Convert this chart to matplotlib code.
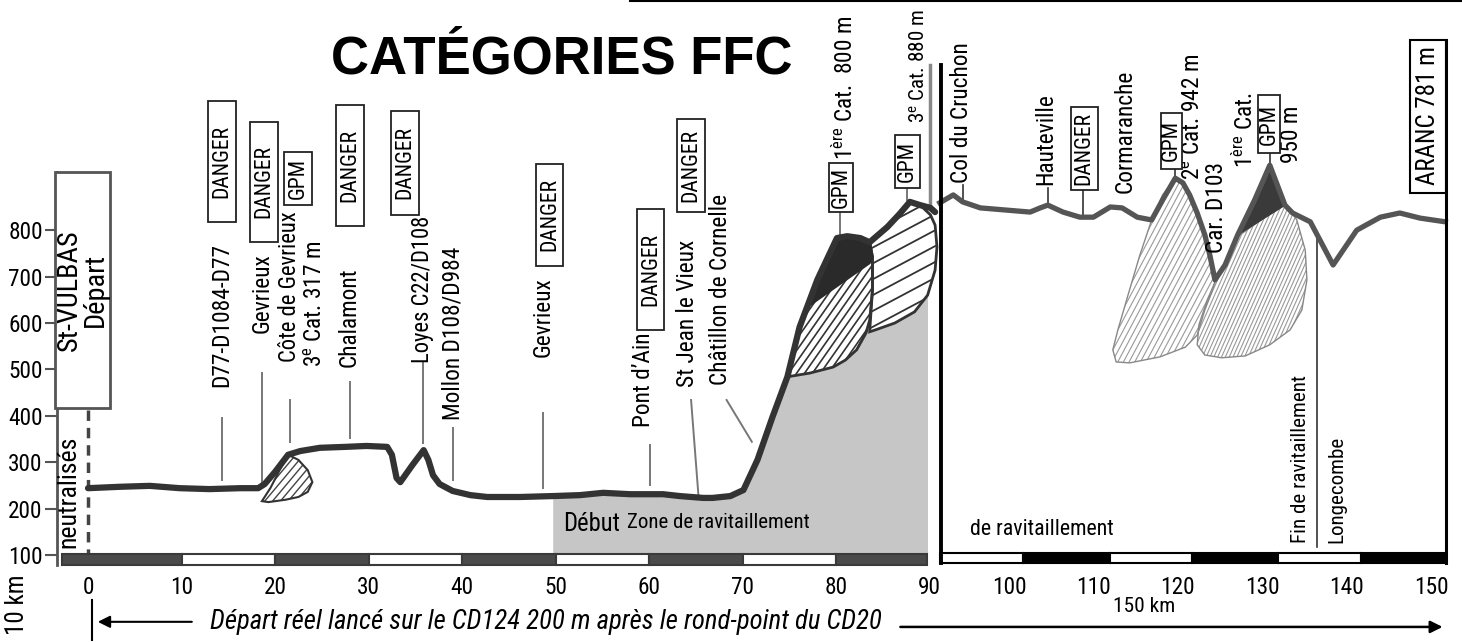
import matplotlib
matplotlib.use("Agg")
import matplotlib.pyplot as plt
import numpy as np
from matplotlib import font_manager
from matplotlib.patches import Polygon, Rectangle
from matplotlib.lines import Line2D
from matplotlib.transforms import IdentityTransform


# look for a narrow sans face; fall back to Liberation Sans with smaller sizes
def pick_narrow():
    fl = font_manager.fontManager.ttflist
    for want in ['Liberation Sans Narrow', 'Arial Narrow', 'Roboto Condensed',
                 'Open Sans Condensed', 'DejaVu Sans Condensed', 'Noto Sans Condensed']:
        if any(f.name == want for f in fl):
            return want, 'normal'
    for f in fl:
        if f.stretch in ('condensed', 'semi-condensed') and f.style == 'normal' \
                and f.weight in (400, 'normal', 'regular') and 'Mono' not in f.name \
                and 'Serif' not in f.name:
            return f.name, f.stretch
    return None, 'normal'


narrow, stretch = pick_narrow()
if narrow:
    plt.rcParams['font.family'] = [narrow, 'Liberation Sans', 'DejaVu Sans']
    plt.rcParams['font.stretch'] = stretch
    NF = 1.2
    MATHFONT = narrow
else:
    plt.rcParams['font.family'] = ['Liberation Sans', 'DejaVu Sans']
    NF = 1.0
    MATHFONT = 'Liberation Sans'
plt.rcParams['mathtext.fontset'] = 'custom'
plt.rcParams['mathtext.rm'] = MATHFONT
plt.rcParams['mathtext.it'] = MATHFONT + ':italic'

FS = 14 * NF       # place names
FS_BOX = 13 * NF   # DANGER / GPM
FS_TICK = 14 * NF
FS_SMALL = 12.5 * NF

# ---- profile data (km, altitude m) ----
left_km = [0, 3.4, 6.6, 9.8, 13.0, 16.3, 18.2, 18.9, 20.0, 21.4, 22.7, 24.8, 27.5, 29.8,
           32.0, 32.5, 33.0, 33.4, 34.7, 35.9, 36.4, 36.9, 37.6, 39.0, 40.9, 42.7, 46.2,
           49.7, 52.6, 55.1, 58.0, 61.5, 63.3, 65.8, 66.8, 68.7, 70.1, 71.6, 73.2, 74.8,
           76.1, 78.0, 80.1, 81.2, 82.6, 83.6, 85.5, 86.8, 87.9, 89.0, 90.1, 90.6]
left_alt = [244, 247, 249, 244, 242, 244, 244, 253, 279, 316, 324, 331, 333, 335,
            333, 316, 266, 257, 294, 326, 305, 272, 253, 238, 229, 225, 225,
            227, 229, 234, 231, 231, 227, 223, 223, 227, 240, 305, 397, 484,
            591, 693, 783, 787, 783, 774, 807, 835, 861, 854, 848, 839]

right_km = [91.8, 93.4, 94.5, 96.6, 102.5, 103.7, 104.6, 106.4, 108.4, 110.0, 112.0, 113.4,
            115.2, 116.9, 118.2, 119.7, 120.6, 121.4, 122.3, 123.2, 123.8, 124.4, 125.6,
            127.1, 129.1, 130.9, 132.7, 133.6, 135.7, 138.4, 141.2, 144.0, 146.3, 148.7, 151.7]
right_alt = [859, 876, 861, 848, 839, 848, 854, 839, 828, 828, 850, 848,
             828, 822, 865, 912, 902, 876, 837, 790, 746, 693, 725,
             790, 865, 940, 854, 837, 818, 725, 800, 828, 837, 826, 818]

# climb shapes
cote_km = [21.4, 22.5, 23.5, 24.0, 23.5, 22.5, 21.1, 19.3, 18.6, 19.5, 20.5]
cote_alt = [316, 305, 283, 257, 236, 225, 219, 214, 216, 244, 283]
col1_km = [74.8, 76.1, 78.0, 80.1, 81.2, 82.6, 83.6, 83.9, 83.9, 83.6, 83.2, 82.2, 81.0, 79.7, 77.2]
col1_alt = [484, 591, 693, 783, 787, 783, 774, 742, 671, 606, 578, 542, 520, 505, 492]
col1_dark_km = [76.9, 78.0, 80.1, 81.2, 82.6, 83.6, 83.9, 83.6]
col1_dark_alt = [634, 693, 783, 787, 783, 774, 742, 729]
col2_km = [83.6, 85.5, 86.8, 87.9, 89.0, 90.1, 90.6, 90.8, 90.6, 89.8, 88.4, 86.3, 84.2, 83.6, 83.9, 83.9]
col2_alt = [774, 807, 835, 861, 854, 833, 811, 764, 714, 660, 624, 600, 585, 581, 671, 742]
colA_km = [119.7, 118.2, 116.9, 115.5, 114.1, 112.9, 112.3, 112.7, 114.3, 117.9, 120.9, 122.3,
           123.2, 124.1, 124.4, 123.8, 123.2, 122.3, 121.4, 120.6]
colA_alt = [912, 876, 822, 746, 660, 585, 542, 516, 514, 527, 548, 574,
            628, 671, 688, 746, 790, 837, 876, 902]
colB_km = [127.0, 132.7, 134.1, 135.1, 135.3, 134.7, 133.3, 130.9, 128.0, 125.2, 123.2,
           122.3, 122.5, 123.5, 124.4, 125.6]
colB_alt = [785, 859, 822, 757, 693, 628, 585, 553, 529, 525, 531, 553, 596, 650, 688, 725]
colB_dark_km = [127.1, 129.1, 130.9, 132.7]
colB_dark_alt = [790, 865, 940, 854]

y_ticks = [100, 200, 300, 400, 500, 600, 700, 800]
left_xticks = [0, 10, 20, 30, 40, 50, 60, 70, 80, 90]
right_xticks = [100, 110, 120, 130, 140, 150]
left_bar_edges = [-2.8, 10, 20, 30, 40, 50, 60, 70, 80, 89.7]
right_bar_edges = [91.8, 101.7, 112, 121.7, 131.9, 141.7, 151.7]

# labels: (text, km, bottom altitude, size factor)
left_labels = [("D77-D1084-D77", 14.3, 462, 1), ("Gevrieux", 18.6, 578, 1),
               ("Côte de Gevrieux", 21.5, 516, 0.97), ("3$^{\\mathrm{e}}$ Cat. 317 m", 24.3, 505, 1),
               ("Chalamont", 27.9, 505, 1), ("Loyes C22/D108", 35.8, 514, 0.97),
               ("Mollon D108/D984", 39.0, 391, 1), ("Gevrieux", 48.7, 527, 1),
               ("Pont d’Ain", 59.4, 376, 1), ("St Jean le Vieux", 64.1, 462, 1),
               ("Châtillon de Cornelle", 67.7, 466, 1),
               ("1$^{\\mathrm{ère}}$ Cat.  800 m", 81.0, 951, 1),
               ("3$^{\\mathrm{e}}$ Cat. 880 m", 88.8, 1031, 0.9)]
right_labels = [("Col du Cruchon", 94.4, 902, 1), ("Hauteville", 104.4, 897, 1),
                ("Cormaranche", 113.7, 880, 1), ("2$^{\\mathrm{e}}$ Cat. 942 m", 121.9, 908, 1),
                ("Car. D103", 124.6, 751, 1), ("1$^{\\mathrm{ère}}$ Cat.", 128.0, 934, 1),
                ("950 m", 133.5, 945, 1), ("Fin de ravitaillement", 134.5, 126, 0.9),
                ("Longecombe", 138.9, 126, 0.9)]
# boxes: (text, km0, km1, alt0, alt1)
left_boxes = [("DANGER", 12.8, 15.8, 818, 1078), ("DANGER", 17.3, 20.3, 775, 1033),
              ("DANGER", 26.5, 29.5, 809, 1070), ("DANGER", 32.4, 35.4, 833, 1057),
              ("DANGER", 47.9, 50.8, 723, 943), ("DANGER", 58.7, 61.6, 585, 846),
              ("DANGER", 63.0, 66.0, 839, 1040), ("GPM", 21.0, 24.0, 854, 968),
              ("GPM", 79.3, 81.8, 839, 945), ("GPM", 86.3, 89.0, 891, 1005)]
right_boxes = [("DANGER", 107.3, 110.5, 887, 1065), ("GPM", 118.0, 120.5, 932, 1053),
               ("GPM", 129.5, 132.1, 966, 1091)]
# leader lines: (km0, alt0, km1, alt1)
left_leaders = [(14.3, 395, 14.3, 262), (18.6, 492, 18.6, 251), (21.6, 434, 21.6, 344),
                (28.0, 473, 28.0, 352), (35.8, 514, 35.8, 341), (39.0, 374, 39.0, 262),
                (48.7, 406, 48.7, 244), (60.1, 337, 60.1, 251), (64.5, 434, 65.3, 225),
                (68.3, 434, 71.0, 344), (80.4, 839, 80.4, 787), (87.6, 891, 87.6, 865)]
right_leaders = [(94.55, 897, 94.55, 861), (104.6, 891, 104.6, 854), (108.8, 887, 108.8, 826),
                 (119.7, 932, 119.7, 912), (130.9, 966, 130.9, 940)]

YLIM = (100 + (555 - 642) * 2.155, 100 + 555 * 2.155)

fig = plt.figure(figsize=(14.62, 6.42), dpi=100)
axL = fig.add_axes([0, 0, 1, 1])
axL.set_xlim(-88 / 9.35, (1462 - 88) / 9.35)
axL.set_ylim(*YLIM)
axR = fig.add_axes([0, 0, 1, 1])
axR.set_xlim(100 - 1009 / 8.44, 100 + (1462 - 1009) / 8.44)
axR.set_ylim(*YLIM)
axR.set_facecolor('none')
axL.set_facecolor('white')


def hatched(ax, xs, ys, angle, step, lcolor, lw, edge, elw, z):
    poly = Polygon(np.column_stack([xs, ys]), closed=True, facecolor='white',
                   edgecolor='none', zorder=z)
    ax.add_patch(poly)
    pts = ax.transData.transform(np.column_stack([xs, ys]))
    t = np.deg2rad(angle)
    d = np.array([np.cos(t), np.sin(t)])
    n = np.array([-np.sin(t), np.cos(t)])
    c = pts.mean(axis=0)
    L = np.ptp(pts, axis=0).sum()
    proj = pts @ n
    for k in np.arange(proj.min() + step / 2, proj.max(), step):
        p = c + n * (k - c @ n)
        a, b = p - d * L, p + d * L
        ln = Line2D([a[0], b[0]], [a[1], b[1]], transform=IdentityTransform(),
                    color=lcolor, lw=lw, zorder=z + 0.1)
        ax.add_line(ln)
        ln.set_clip_path(poly)
    ax.add_patch(Polygon(np.column_stack([xs, ys]), closed=True, facecolor='none',
                         edgecolor=edge, linewidth=elw, zorder=z + 0.2))


def vlabels(ax, items):
    for txt, x, y, k in items:
        ax.text(x, y, txt, rotation=90, rotation_mode='anchor', ha='left', va='center',
                fontsize=FS * k, zorder=6)


def boxes(ax, items):
    for txt, x0, x1, y0, y1 in items:
        ax.add_patch(Rectangle((x0, y0), x1 - x0, y1 - y0, facecolor='white',
                               edgecolor='#222', lw=1.3, zorder=6))
        ax.text((x0 + x1) / 2, (y0 + y1) / 2, txt, rotation=90, ha='center', va='center',
                fontsize=FS_BOX, zorder=7)


# ---- left panel ----
grey = axL.fill_between(left_km, 103, left_alt, where=np.array(left_km) >= 49.7,
                        color='#c6c6c6', lw=0, zorder=1)
grey.set_clip_path(Rectangle((49.7, 0), 40.0, 1000, transform=axL.transData))

hatched(axL, cote_km, cote_alt, 50, 6, '#444', 1.0, '#333', 1.5, 3)
hatched(axL, col1_km, col1_alt, 55, 6.5, '#333', 1.2, '#333', 2, 3)
axL.add_patch(Polygon(np.column_stack([col1_dark_km, col1_dark_alt]), closed=True,
                      facecolor='#2a2a2a', edgecolor='#2a2a2a', lw=1.5, zorder=3.5))
hatched(axL, col2_km, col2_alt, 28, 14, '#333', 1.3, '#333', 2, 3)

axL.plot(left_km, left_alt, color='#333333', lw=4.5, solid_capstyle='round',
         solid_joinstyle='round', zorder=5)

for x0, y0, x1, y1 in left_leaders:
    axL.plot([x0, x1], [y0, y1], color='#777', lw=1.4, zorder=2)
axL.plot([90.05, 90.05], [1156, 854], color='#888', lw=2.5, zorder=2)

vlabels(axL, left_labels)
boxes(axL, left_boxes)

# start box
axL.add_patch(Rectangle((-3.53, 417), 5.88, 508, facecolor='white', edgecolor='#555',
                        lw=2, zorder=4))
axL.text(-0.64, 671, "St-VULBAS\nDépart", rotation=90, ha='center', va='center',
         fontsize=17 * NF, linespacing=0.95, multialignment='center', zorder=6)
axL.text(-2.14, 236, "neutralisés", rotation=90, ha='center', va='center',
         fontsize=15.5 * NF, zorder=6)
axL.plot([0, 0], [412, 100], color='#444', lw=2.5, ls=(0, (3, 2)), zorder=4)

# distance bar
w = np.diff(left_bar_edges)
axL.bar(left_bar_edges[:-1], 24, width=w, bottom=78, align='edge',
        color=['#4a4a4a' if i % 2 == 0 else 'white' for i in range(len(w))],
        edgecolor='#3a3a3a', lw=1.5, zorder=4)

axL.text(53.9, 167, "Début", fontsize=14.8 * NF, ha='center', va='center', zorder=6)
axL.text(57.6, 171, "Zone de ravitaillement", fontsize=FS_SMALL, ha='left', va='center',
         zorder=6)

axL.text(50.7, 1167, "CATÉGORIES FFC", fontsize=38, fontweight='bold',
         family='Liberation Sans', ha='center', va='center', zorder=6)
axL.plot([58.0, 147], [1293, 1293], color='black', lw=1.5, clip_on=False)

# axes styling
for s in ['top', 'right']:
    axL.spines[s].set_visible(False)
axL.spines['bottom'].set_visible(False)
axL.spines['bottom'].set_position(('data', 58))
axL.spines['left'].set_position(('data', -3.35))
axL.spines['left'].set_bounds(78, 925)
axL.spines['left'].set_color('#555')
axL.spines['left'].set_linewidth(2)
axL.set_yticks(y_ticks)
axL.set_yticklabels([str(v) for v in y_ticks])
axL.tick_params(axis='y', length=8.5, width=1.5, color='#555', labelsize=FS_TICK, pad=1.5)
axL.set_xticks(left_xticks)
axL.set_xticklabels([str(v) for v in left_xticks])
axL.tick_params(axis='x', length=0, labelsize=FS_TICK, pad=1)

axL.text(-7.6, -8, "10 km", rotation=90, ha='center', va='center', fontsize=15 * NF)
axL.annotate("", xy=(0.75, -44), xytext=(11.4, -44),
             arrowprops=dict(arrowstyle='-|>', color='black', lw=1.5, mutation_scale=18))
axL.plot([0.43, 0.43], [3, -83], color='black', lw=1.5)
axL.text(13.0, -44, "Départ réel lancé sur le CD124 200 m après le rond-point du CD20",
         style='italic', fontsize=16.6 * (1.16 if narrow else 1.0), ha='left', va='center')

# ---- right panel ----
hatched(axR, colA_km, colA_alt, 62, 5, '#999', 0.8, '#888', 1.0, 3)
hatched(axR, colB_km, colB_alt, 66, 3.5, '#999', 0.8, '#888', 1.0, 3)
axR.add_patch(Polygon(np.column_stack([colB_dark_km, colB_dark_alt]), closed=True,
                      facecolor='#3a3a3a', edgecolor='#3a3a3a', lw=1, zorder=3.5))
axR.plot(right_km, right_alt, color='#555555', lw=3.8, solid_joinstyle='round', zorder=5)

for x0, y0, x1, y1 in right_leaders:
    axR.plot([x0, x1], [y0, y1], color='#333', lw=1.2, zorder=2)
axR.plot([136.5, 136.5], [785, 117], color='#333', lw=1.2, zorder=2)

vlabels(axR, right_labels)
boxes(axR, right_boxes)

axR.add_patch(Rectangle((147.5, 880), 4.3, 330, facecolor='white', edgecolor='black',
                        lw=1.5, zorder=6))
axR.text(149.6, 1046, "ARANC 781 m", rotation=90, ha='center', va='center',
         fontsize=15 * NF, zorder=7)

wr = np.diff(right_bar_edges)
axR.bar(right_bar_edges[:-1], 21, width=wr, bottom=83, align='edge',
        color=['white' if i % 2 == 0 else 'black' for i in range(len(wr))],
        edgecolor='black', lw=1.5, zorder=4)
axR.plot([91.9, 91.9], [1156, 83], color='black', lw=2.8, zorder=6)
axR.plot([151.8, 151.8], [1210, 83], color='black', lw=2.2, zorder=6)

axR.text(95.4, 154, "de ravitaillement", fontsize=FS_SMALL * 1.05, ha='left', va='center')
axR.text(116.0, -12, "150 km", fontsize=15.4, ha='center', va='center')
axR.annotate("", xy=(151.7, -55), xytext=(86.8, -55),
             arrowprops=dict(arrowstyle='-|>', color='black', lw=1.8, mutation_scale=18))

for s in ['top', 'right', 'left', 'bottom']:
    axR.spines[s].set_visible(False)
axR.spines['bottom'].set_position(('data', 58))
axR.set_yticks([])
axR.set_xticks(right_xticks)
axR.set_xticklabels([str(v) for v in right_xticks])
axR.tick_params(axis='x', length=0, labelsize=FS_TICK, pad=1)

fig.savefig("out.png", dpi=100)
